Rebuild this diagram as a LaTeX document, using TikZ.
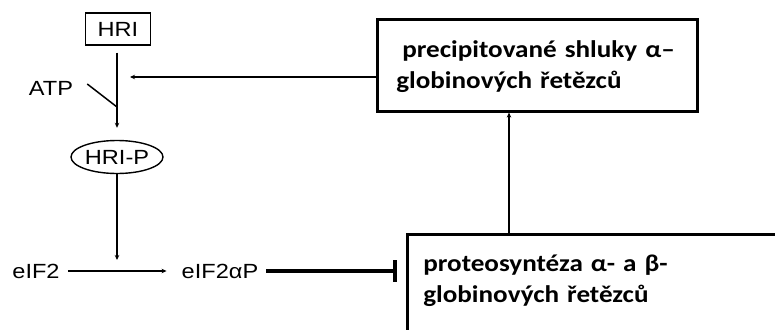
\documentclass[tikz,border=0pt]{standalone}
\usepackage{fontspec}
\usepackage{tikz}
\usetikzlibrary{positioning,shapes.geometric,arrows.meta}
\newfontfamily\arialfont[FakeStretch=1.15]{Liberation Sans}
\newfontfamily\calfont[FakeStretch=1.13]{Carlito}

\begin{document}
\begin{tikzpicture}[x=1pt,y=-1pt]
          \tikzset{lbl/.style={font=\arialfont\fontsize{20.5}{24}\selectfont, inner sep=3pt}}
          \tikzset{hribox/.style={lbl, draw, line width=1.5pt, minimum width=65pt, minimum height=32pt}}
          \tikzset{hriell/.style={lbl, ellipse, draw, line width=1.4pt, inner sep=0pt, minimum width=92pt, minimum height=33pt}}
          \tikzset{globox/.style={draw, line width=2.6pt, align=left, anchor=north west,
              font=\calfont\bfseries\fontsize{24}{31.5}\selectfont, inner ysep=0pt}}
          \tikzset{arr/.style={line width=1.5pt, -{Stealth[length=5pt,width=4.5pt]}}}
          \useasboundingbox (0,0) rectangle (775,329);

          \node[hribox] (hri) at (118,29) {HRI};
          \node[hriell] (hrip) at (117,157) {HRI-P};
          \node[lbl] (atp) at (51,88) {ATP};
          \node[lbl] (eif) at (36,271) {eIF2};
          \node[lbl] (eifp) at (220,271) {eIF2αP};
          \node[globox, inner xsep=19pt, text width=282pt, text height=38pt, text depth=54pt] (shluky) at (376,18)
              {\hspace*{6pt}precipitované shluky α–\\globinových řetězců};
          \node[globox, inner xsep=16pt, text width=400pt, text height=37pt, text depth=120pt] (prot) at (406,233)
              {proteosyntéza α- a β-\\globinových řetězců};

          \coordinate (atpjoin) at (117,107);
          \coordinate (fb) at (130,77);
          \coordinate (upx) at (509,170);

          \draw[arr, shorten <=7pt, shorten >=12pt] (hri.south -| hrip) -- (hrip);
          \draw[line width=1.5pt] ([shift={(11,-4)}]atp.east) -- (atpjoin);
          \draw[arr] (shluky.west |- fb) -- (fb);
          \draw[arr, shorten >=11pt] (hrip) -- (hrip |- eif);
          \draw[arr, shorten <=5pt, shorten >=12pt] (eif) -- (eifp);
          \draw[line width=4pt, -{Bar[width=22pt]}, shorten <=5pt, shorten >=9pt] (eifp) -- (prot.west |- eifp);
          \draw[arr] (prot.north -| upx) -- (shluky.south -| upx);
        \end{tikzpicture}
\end{document}
